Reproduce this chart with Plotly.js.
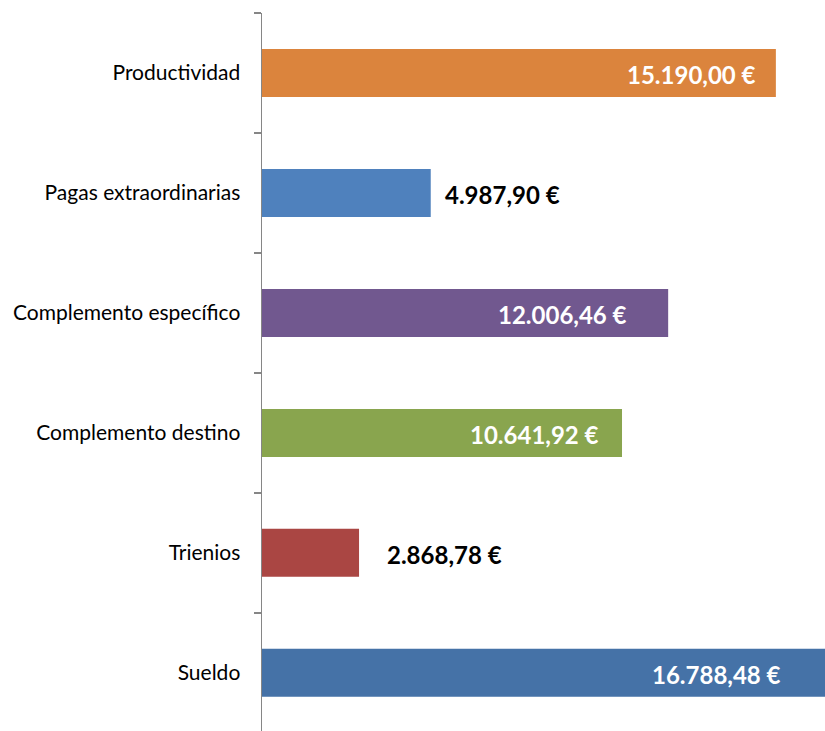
<!DOCTYPE html>
<html>
<head>
<meta charset="utf-8">
<script src="https://cdn.plot.ly/plotly-3.0.1.min.js"></script>
<style>html,body{margin:0;padding:0;background:#fff;overflow:hidden;}#chart{width:830px;height:731px;}</style>
</head>
<body>
<div id="chart"></div>
<script>
// Data (bottom to top)
const categories = ['Sueldo', 'Trienios', 'Complemento destino', 'Complemento específico', 'Pagas extraordinarias', 'Productividad'];
const values = [16788.48, 2868.78, 10641.92, 12006.46, 4987.90, 15190.00];
const barColors = ['#4572A7', '#AA4643', '#89A54E', '#71588F', '#4F81BD', '#DB843D'];

function fmtEUR(v) {
  const parts = v.toFixed(2).split('.');
  const intPart = parts[0].replace(/\B(?=(\d{3})+(?!\d))/g, '.');
  return intPart + ',' + parts[1] + ' €';
}

// label placement (style): inside-end for long bars, outside for short ones
const labelInside = [true, false, true, true, false, true];
const labelShift = [-47, 26, -21, -39, 12, -18];

const annotations = categories.map((c, i) => ({
  x: values[i], y: c, xref: 'x', yref: 'y',
  text: '<b>' + fmtEUR(values[i]) + '</b>',
  showarrow: false,
  xanchor: labelInside[i] ? 'right' : 'left',
  xshift: labelShift[i],
  yshift: -2,
  font: {family: 'Lato, "Open Sans", sans-serif', size: 24, color: labelInside[i] ? '#FFFFFF' : '#000000'}
}));

const trace = {
  type: 'bar',
  orientation: 'h',
  y: categories,
  x: values,
  marker: {color: barColors},
  width: 0.4,
  hoverinfo: 'skip'
};

const layout = {
  width: 830, height: 731,
  margin: {l: 262, r: 0, t: 13, b: 0, pad: 0},
  paper_bgcolor: '#FFFFFF', plot_bgcolor: '#FFFFFF',
  showlegend: false,
  xaxis: {range: [0, 16790], visible: false, fixedrange: true},
  yaxis: {
    type: 'category',
    range: [-0.485, 5.5],
    tickson: 'boundaries',
    ticks: 'outside', ticklen: 7, tickwidth: 1.5, tickcolor: '#868686',
    showline: true, linecolor: '#868686', linewidth: 1.5,
    showgrid: false, zeroline: false,
    tickfont: {family: 'Lato, "Open Sans", sans-serif', size: 21, color: '#000000'},
    ticklabelstandoff: 16
  },
  annotations: annotations
};

Plotly.newPlot('chart', [trace], layout, {displayModeBar: false, staticPlot: true});
</script>
</body>
</html>
